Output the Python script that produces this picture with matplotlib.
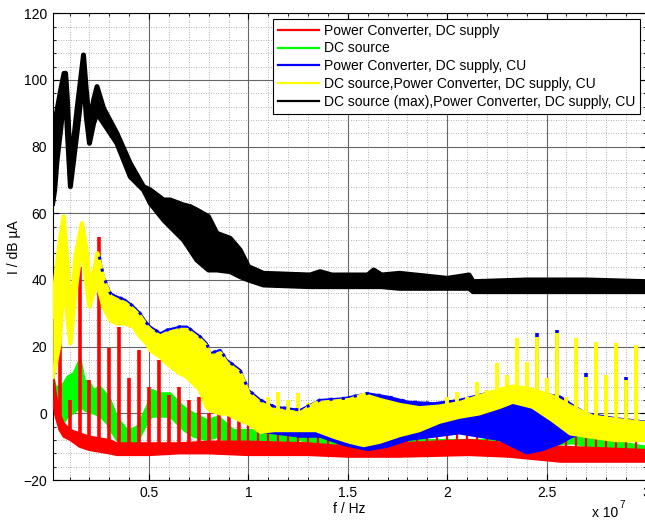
import numpy as np
import matplotlib
matplotlib.use("Agg")
import matplotlib.pyplot as plt
from matplotlib.lines import Line2D
from matplotlib.ticker import MultipleLocator

plt.rcParams['font.family'] = ['Liberation Sans', 'DejaVu Sans']

# frequencies in MHz, levels in dB uA (lower / upper edge of the noisy trace)
black_f = [0.15, 0.25, 0.37, 0.55, 0.72, 0.8, 0.9, 1.04, 1.37, 1.7, 1.84, 2.0, 2.21, 2.38, 2.71,
           3.38, 4.05, 4.72, 5.06, 5.73, 6.06, 6.73, 7.07, 7.4, 7.99, 8.41, 9.08, 9.58, 10.0,
           10.75, 13.1, 13.6, 14.2, 16.0, 16.3, 16.7, 17.6, 20.0, 21.1, 21.3, 24.0, 27.0, 30.0]
black_lo = [63, 67, 76, 85, 95, 95, 83, 68, 84, 101, 89, 81, 87, 90, 87, 81, 71, 67, 63, 58,
            56, 52, 49, 46, 43, 43, 42.5, 41, 40, 38.5, 38, 38, 38, 38, 38, 38, 37.5, 37.5,
            37.5, 36.5, 36.5, 36.5, 36.5]
black_hi = [81, 87, 91, 97, 102, 102, 93, 73, 91, 107.5, 97, 87, 94, 98, 91.5, 84, 75, 68, 67,
            64, 64, 62.5, 62, 61, 59, 54, 52.5, 49, 44, 42, 41.5, 42.5, 41.5, 41.5, 43, 41.5,
            42, 40.5, 41.5, 39.5, 40, 40, 39.5]

yellow_f = [0.15, 0.3, 0.5, 0.7, 0.9, 1.04, 1.3, 1.62, 1.85, 2.0, 2.25, 2.4, 2.71, 3.05, 3.38,
            3.8, 4.22, 4.55, 4.89, 5.06, 5.56, 5.9, 6.56, 6.9, 7.57, 7.9, 8.07, 8.58, 8.91, 9.58,
            10.0, 10.6, 11.3, 12.6, 13.4, 14.3, 15.1, 15.8, 16.6, 17.6, 18.6, 19.6, 20.6, 21.6,
            22.65, 23.3, 24.3, 25.3, 26.2, 27.3, 28.5, 30.0]
yellow_lo = [11, 15, 21, 41, 29, 21, 37, 51, 39, 32, 37, 39, 32, 28, 27, 27, 26, 23, 21, 19, 17,
             15, 12, 11, 7, 2, 1, 0, 0, -2, -3, -5.5, -5, -5, -5, -7, -8.5, -9.5, -8.5, -6.5,
             -5, -2.5, -1, 0, 2, 3.5, 2, -2, -6, -7, -8, -8]
yellow_hi = [29, 41, 51, 59, 44, 27, 47, 57, 49, 39, 43, 48, 40, 35, 34, 33, 31, 29, 26, 25, 23,
             24, 25, 25, 22, 20, 17, 18, 15, 12, 6, 3, 1, 0, 3, 3.5, 4, 5.5, 4, 2.5, 1.5, 2, 3,
             5, 7, 8, 7, 5, 2, -1, -2, -3]
yellow_spike_f = [10.5, 11.0, 11.5, 12.0, 12.5, 13.0, 20.0, 20.5, 21.0, 21.5, 22.0, 22.5, 23.0,
                  23.5, 24.0, 24.5, 25.0, 25.5, 26.0, 26.5, 27.0, 27.5, 28.0, 28.5, 29.0, 29.5]
yellow_spike_top = [4, 5, 6.5, 4, 6, 3, 5, 6.5, 5, 9.5, 7, 15, 11.5, 22.5, 15.5, 23, 10.5, 24,
                    5, 22.5, 11, 21.5, 11.5, 21, 10, 20.5]

blue_f = [2.5, 2.71, 3.05, 3.38, 3.8, 4.22, 4.55, 4.89, 5.06, 5.56, 5.9, 6.56, 6.9, 7.57, 7.9,
          8.07, 8.58, 8.91, 9.58, 10.0, 10.6, 11.3, 12.6, 13.6, 14.8, 16.0, 17.0, 18.0, 19.3,
          20.6, 21.6, 22.65, 23.3, 24.0, 24.8, 25.7, 26.3, 27.0, 28.5, 30.0]
blue_lo = [38, 32, 28, 27, 27, 26, 23, 21, 19, 17, 15, 12, 11, 7, 2, 1, 0, 0, -2, -3, -5.5, -6,
           -7, -7, -9.5, -11, -10, -8, -7, -6, -7, -8, -10, -12, -11, -9, -7, -6, -6.5, -7]
blue_hi = [47, 41, 36, 35, 34, 32, 30, 27, 26, 24, 25, 26, 26, 23, 21, 18, 19, 16, 13, 7, 4, 2,
           1, 4, 4.5, 6, 5, 3.5, 3, 4, 5.5, 7, 8, 7.5, 6, 5, 2.5, 0, -1.5, -2.5]
blue_spike_f = [24.5, 25.5, 27.0, 29.0]
blue_spike_top = [24, 25, 12, 11]

green_f = [0.15, 0.3, 0.5, 0.7, 0.9, 1.2, 1.54, 1.75, 2.04, 2.21, 2.54, 2.88, 3.05, 3.38, 3.89,
           4.05, 4.39, 4.89, 5.14, 5.56, 6.06, 6.56, 6.73, 7.24, 7.9, 8.5, 9.25, 9.92, 10.9,
           11.9, 12.6, 13.6, 14.5, 15.6, 18.0, 22.0, 26.3, 28.0, 30.0]
green_lo = [5, 1, -2, -3, -1, 0, 2, 1, 0, 0, -1, -3, -5, -8, -11, -11, -9, -3, -1, -1, -1, -4,
            -5, -7, -8, -7, -10, -10, -10, -9, -8, -10, -11, -11, -11, -11, -9, -11, -13]
green_hi = [12, 8, 8, 9, 11, 12, 16.5, 10, 9, 7, 8, 5.5, 4, -1, -5, -5, -4, 2, 7, 6, 6, 3, 2, 0,
            -2, -1, -5, -5, -5, -5, -5, -6, -8, -9, -8, -8, -6.5, -8, -10]

red_f = [0.15, 0.3, 0.5, 0.7, 1.04, 1.5, 2.0, 3.0, 3.38, 5.0, 6.5, 8.0, 10.0, 13.0, 15.0, 17.6,
         21.1, 23.1, 25.7, 30.0]
red_lo = [4, -1, -5, -7, -8, -10, -11, -12, -12.5, -12.5, -12, -12, -12.5, -12.5, -13, -13,
          -12.5, -13, -14.5, -14.5]
red_hi = [12, 6, 0, -3, -5, -6, -7, -8, -9, -9, -9, -8.5, -8.5, -9, -10, -9, -8, -9, -10, -11]
red_spike_f = [0.5, 1.0, 1.5, 2.0, 2.5, 3.0, 3.5, 4.0, 4.5, 5.0, 5.5, 6.0, 6.5, 7.0, 7.5, 8.0,
               8.5, 9.0, 9.5, 10.0, 10.5, 11.0, 11.5, 12.0, 12.5, 13.0, 13.5, 14.0, 14.5, 15.0,
               15.5, 16.0, 16.5, 17.0, 17.5, 18.0, 18.5, 19.0, 19.5, 20.0, 20.5, 21.0, 21.5,
               22.0, 22.5, 23.0, 23.5, 24.0, 24.5, 25.0, 25.5, 26.0, 26.5, 27.0, 27.5, 28.0,
               28.5, 29.0, 29.5]
red_spike_top = [22, 4, 44, 10, 53, 19.5, 26, 10.5, 19, 8, 16, 5.5, 8, 4, 5, 0, 2, 1, 0, -3.5,
                 -4, -5, -6, -6.5, -6, -5, -5, -6, -7, -7, -8, -7, -7, -6.5, -7, -6, -6.5, -6,
                 -6, -5.5, -5.5, -5, -5.5, -7, -6.5, -7, -7.5, -7, -7, -7.5, -6, -5.5, -7, -7,
                 -6.5, -7, -6, -6.5, -7]

labels = ['Power Converter, DC supply', 'DC source', 'Power Converter, DC supply, CU',
          'DC source,Power Converter, DC supply, CU',
          'DC source (max),Power Converter, DC supply, CU']
colors = ['#ff0000', '#00ff00', '#0000ff', '#ffff00', '#000000']


def band(ax, f, lo, hi, color, z, edge=1.6):
    f = np.asarray(f) * 1e6
    ax.fill_between(f, lo, hi, color=color, lw=0, zorder=z)
    ax.plot(f, lo, color=color, lw=edge, zorder=z, solid_joinstyle='round')
    ax.plot(f, hi, color=color, lw=edge, zorder=z, solid_joinstyle='round')


def spikes(ax, f, top, base_f, base_lo, color, z, lw=2.6):
    base = np.interp(f, base_f, base_lo)
    ax.vlines(np.asarray(f) * 1e6, base, top, color=color, lw=lw, zorder=z)


fig = plt.figure(figsize=(6.45, 5.23), dpi=100)
ax = fig.add_axes([52.7 / 645, 43 / 523, (646 - 52.7) / 645, (480 - 13.3) / 523])

band(ax, green_f, green_lo, green_hi, colors[1], 2)
band(ax, red_f, red_lo, red_hi, colors[0], 3)
spikes(ax, red_spike_f[:19], red_spike_top[:19], red_f, red_lo, colors[0], 3)
spikes(ax, red_spike_f[19:], red_spike_top[19:], red_f, red_lo, colors[0], 3, lw=1.6)
band(ax, blue_f, blue_lo, blue_hi, colors[2], 4)
spikes(ax, blue_spike_f, blue_spike_top, yellow_f, yellow_lo, colors[2], 4)
band(ax, yellow_f, yellow_lo, yellow_hi, colors[3], 5, edge=3.2)
spikes(ax, yellow_spike_f, yellow_spike_top, yellow_f, yellow_lo, colors[3], 5, lw=2.8)

# blue trace peeking out as single points along the top of the yellow one
bf = np.asarray(blue_f)
edge = bf <= 20
ax.plot(bf[edge] * 1e6, np.asarray(blue_hi)[edge], color=colors[2], lw=2.2,
        ls=(0, (1, 3)), zorder=5.5)

band(ax, black_f, black_lo, black_hi, colors[4], 6, edge=3.6)

ax.set_xlim(1.5e5, 3e7)
ax.set_ylim(-20, 120)
ax.set_xticks([5e6, 1e7, 1.5e7, 2e7, 2.5e7, 3e7])
ax.set_xticklabels(['0.5', '1', '1.5', '2', '2.5', '3'])
ax.set_yticks(np.arange(-20, 121, 20))
ax.xaxis.set_minor_locator(MultipleLocator(1e6))
ax.yaxis.set_minor_locator(MultipleLocator(4))
ax.tick_params(which='both', direction='in', top=True, right=True, labelsize=10)
ax.tick_params(which='major', length=4, pad=4)
ax.tick_params(which='minor', length=2)
ax.set_axisbelow(True)
ax.grid(which='major', color='0.4', lw=0.8, ls='-')
ax.grid(which='minor', color='0.6', lw=0.6, ls=(0, (1, 2)))
for s in ax.spines.values():
    s.set_linewidth(0.8)

ax.set_xlabel('f / Hz', fontsize=10, labelpad=2)
ax.set_ylabel('I / dB µA', fontsize=10, labelpad=2)
fig.text(0.958, 1 - 517 / 523, 'x 10', fontsize=10, ha='right', va='baseline')
fig.text(0.96, 1 - 508 / 523, '7', fontsize=7, ha='left', va='baseline')

handles = [Line2D([], [], color=c, lw=1.6) for c in colors]
leg = ax.legend(handles, labels, loc='upper right', fontsize=10, handlelength=3.0,
                handletextpad=0.35, labelspacing=0.28, borderpad=0.32, borderaxespad=0.42,
                fancybox=False, framealpha=1)
leg.get_frame().set_edgecolor('black')
leg.get_frame().set_linewidth(0.8)

fig.savefig('out.png', dpi=100)
